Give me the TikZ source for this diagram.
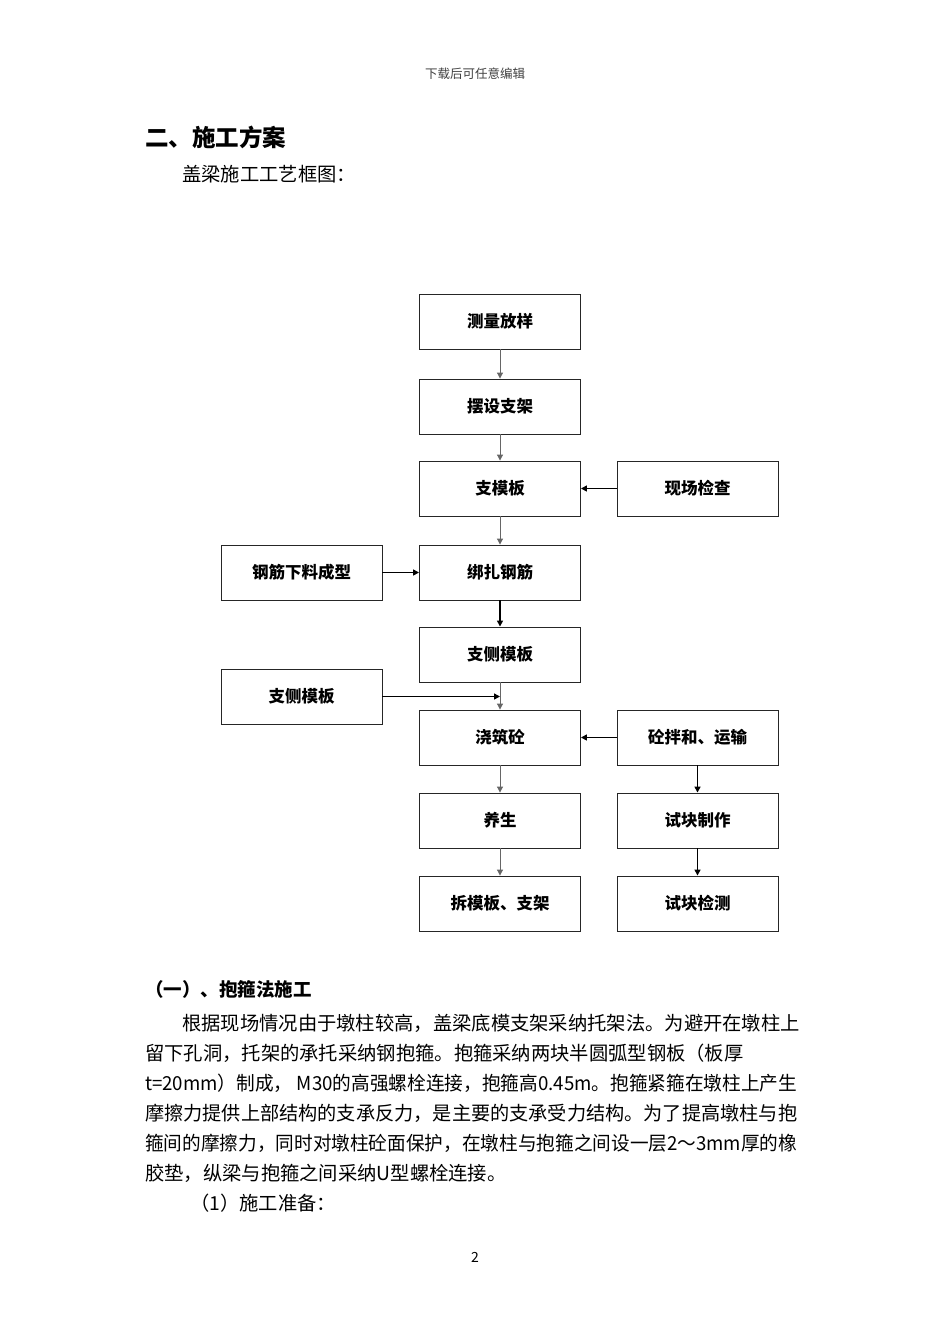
\documentclass[tikz,border=0pt]{standalone}
\usepackage{fontspec}
\usepackage{graphicx}
\setmainfont{Noto Sans CJK SC}
\usetikzlibrary{arrows.meta}
\tikzset{
  box/.style={draw=black!85, line width=0.9pt, minimum width=161pt, minimum height=55pt, inner sep=0pt, font=\fontsize{16.5}{18}\selectfont\bfseries},
  flow/.style={draw=black!60, line width=1pt, -{Triangle[length=6pt,width=6pt]}},
  flowdark/.style={draw=black, line width=1.6pt, -{Triangle[length=6pt,width=6pt]}},
  bodyline/.style={anchor=west, inner sep=0pt, font=\fontsize{19.3}{22}\selectfont},
}
\begin{document}
\begin{tikzpicture}[x=1pt,y=-1pt]
\useasboundingbox (0,0) rectangle (950,1344);
\fill[white] (0,0) rectangle (950,1344);
% header
\node[inner sep=0pt, font=\fontsize{12.5}{14}\selectfont, text=black!75] (hdr) at (475,74) {下载后可任意编辑};
\node[anchor=west, inner sep=0pt, font=\fontsize{23.5}{26}\selectfont\bfseries] (title) at (145,137) {二、施工方案};
\node[bodyline] (cap) at (182,174) {盖梁施工工艺框图：};
% main column
\node[box] (s1) at (500,321.5) {测量放样};
\node[box] (s2) at (500,406.5) {摆设支架};
\node[box] (s3) at (500,488.5) {支模板};
\node[box] (s4) at (500,572.5) {绑扎钢筋};
\node[box] (s5) at (500,654.5) {支侧模板};
\node[box] (s6) at (500,737.5) {浇筑砼};
\node[box] (s7) at (500,820.5) {养生};
\node[box] (s8) at (500,903.5) {拆模板、支架};
% right column
\node[box] (r1) at (697.5,488.5) {现场检查};
\node[box] (r2) at (697.5,737.5) {砼拌和、运输};
\node[box] (r3) at (697.5,820.5) {试块制作};
\node[box] (r4) at (697.5,903.5) {试块检测};
% left column
\node[box] (l1) at (301.5,572.5) {钢筋下料成型};
\node[box] (l2) at (301.5,696.5) {支侧模板};
% arrows
\draw[flow] (s1) -- (s2);
\draw[flow] (s2) -- (s3);
\draw[flow] (s3) -- (s4);
\draw[flowdark] (s4) -- (s5);
\draw[flow] (s5) -- (s6);
\draw[flow] (s6) -- (s7);
\draw[flow] (s7) -- (s8);
\draw[flowdark] (r1) -- (s3);
\draw[flowdark] (r2) -- (s6);
\draw[flowdark] (r2) -- (r3);
\draw[flowdark] (r3) -- (r4);
\draw[flowdark] (l1) -- (s4);
\coordinate (join) at (l2.east -| s6.north);
\draw[flowdark] (l2.east) -- (join);
% section
\node[anchor=west, inner sep=0pt, font=\fontsize{18.5}{21}\selectfont\bfseries] (sec) at (145,989) {（一）、抱箍法施工};
\node[bodyline] (p1) at (182,1023) {根据现场情况由于墩柱较高，盖梁底模支架采纳托架法。为避开在墩柱上};
\node[bodyline] (p2) at (145,1053) {留下孔洞，托架的承托采纳钢抱箍。抱箍采纳两块半圆弧型钢板（板厚};
\node[bodyline] (p3) at (145,1083) {\resizebox{652pt}{\height}{t=20mm）制成， M30的高强螺栓连接，抱箍高0.45m。抱箍紧箍在墩柱上产生}};
\node[bodyline] (p4) at (145,1113) {\resizebox{652pt}{\height}{摩擦力提供上部结构的支承反力，是主要的支承受力结构。为了提高墩柱与抱}};
\node[bodyline] (p5) at (145,1143) {\resizebox{652pt}{\height}{箍间的摩擦力，同时对墩柱砼面保护，在墩柱与抱箍之间设一层2～3mm厚的橡}};
\node[bodyline] (p6) at (145,1173) {胶垫，纵梁与抱箍之间采纳U型螺栓连接。};
\node[bodyline] (p7) at (190,1203) {（1）施工准备：};
\node[inner sep=0pt, font=\fontsize{14}{16}\selectfont] (pg) at (475,1257) {2};
\end{tikzpicture}
\end{document}
